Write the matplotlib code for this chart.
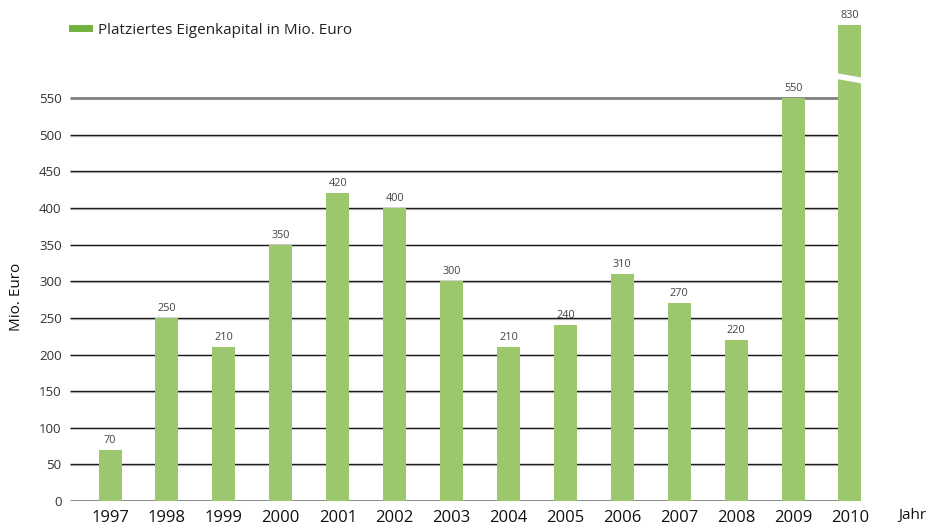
import matplotlib
matplotlib.use("Agg")
import matplotlib.pyplot as plt
from matplotlib.lines import Line2D
from matplotlib.patches import Polygon
import numpy as np

years = ["1997", "1998", "1999", "2000", "2001", "2002", "2003", "2004",
         "2005", "2006", "2007", "2008", "2009", "2010"]
values = [70, 250, 210, 350, 420, 400, 300, 210, 240, 310, 270, 220, 550, 830]
yticks = [0, 50, 100, 150, 200, 250, 300, 350, 400, 450, 500, 550]
legend_label = "Platziertes Eigenkapital in Mio. Euro"
ylabel = "Mio. Euro"
xlabel = "Jahr"

# axis-break settings (display compression above the last tick)
break_at = 550
break_scale = 100 / 280
break_center = 577

plt.rcParams['font.family'] = ['Open Sans', 'DejaVu Sans']

bar_color = "#9dc76c"
legend_color = "#74b23f"
text_color = "#333333"

fig = plt.figure(figsize=(9.31, 5.25), dpi=100)
W, H = 931, 525
step = 740 / 13
x0 = -40 / step
x1 = (W - 110) / step
ax = fig.add_axes([70 / W, 24 / H, 1 - 70 / W, 498 / H])
ax.set_xlim(x0, x1)
ax.set_ylim(0, 680)

pos = np.arange(len(years))
disp = [v if v <= break_at else break_at + (v - break_at) * break_scale for v in values]
width = 23 / step
bars = ax.bar(pos, disp, width=width, color=bar_color, zorder=3, linewidth=0)

# gridlines
grid_end = pos[-1] - width / 2
for t in yticks:
    if t in (0, yticks[-1]):
        ax.hlines(t, x0, grid_end, color="#7f7f7f", lw=2.0, zorder=2)
    else:
        ax.hlines(t - 1.0, x0, grid_end, color="#c8c8c8", lw=1.0, zorder=1)
        ax.hlines(t, x0, grid_end, color="#1a1a1a", lw=1.0, zorder=2)

# break mark on the tall bar
for p, v in zip(pos, values):
    if v > break_at:
        l, r = p - width / 2 - 0.05, p + width / 2 + 0.05
        slope = 3.5
        g = 4.0
        poly = Polygon([[l, break_center + slope + g], [r, break_center - slope + g],
                        [r, break_center - slope - g], [l, break_center + slope - g]],
                       closed=True, facecolor="white", edgecolor="none", zorder=4)
        ax.add_patch(poly)

# value labels
for p, v, d in zip(pos, values, disp):
    ax.annotate(str(v), (p, d), xytext=(0, 3), textcoords="offset points",
                ha="center", va="bottom", fontsize=7.8, color="#444444")

for s in ax.spines.values():
    s.set_visible(False)
ax.set_yticks(yticks)
ax.set_yticklabels([str(t) for t in yticks], fontsize=9.5, color=text_color)
ax.set_xticks(pos)
ax.set_xticklabels(years, fontsize=12, color="#111111")
ax.tick_params(axis="y", length=0, pad=6)
ax.tick_params(axis="x", length=0, pad=6.5)

fig.text(912 / W, 1 - 516 / H, xlabel, ha="center", va="center",
         fontsize=11, color="#111111")
fig.text(17 / W, 1 - 297 / H, ylabel, ha="center", va="center",
         rotation=90, fontsize=11, color="#111111")

fig.legend(handles=[Line2D([], [], color=legend_color, lw=5)], labels=[legend_label],
           loc="center left", bbox_to_anchor=(72 / W, 1 - 30 / H), frameon=False,
           handlelength=1.1, handletextpad=0.57, borderaxespad=0, borderpad=0,
           fontsize=11, labelcolor="#222222")

fig.savefig("out.png", dpi=100)
